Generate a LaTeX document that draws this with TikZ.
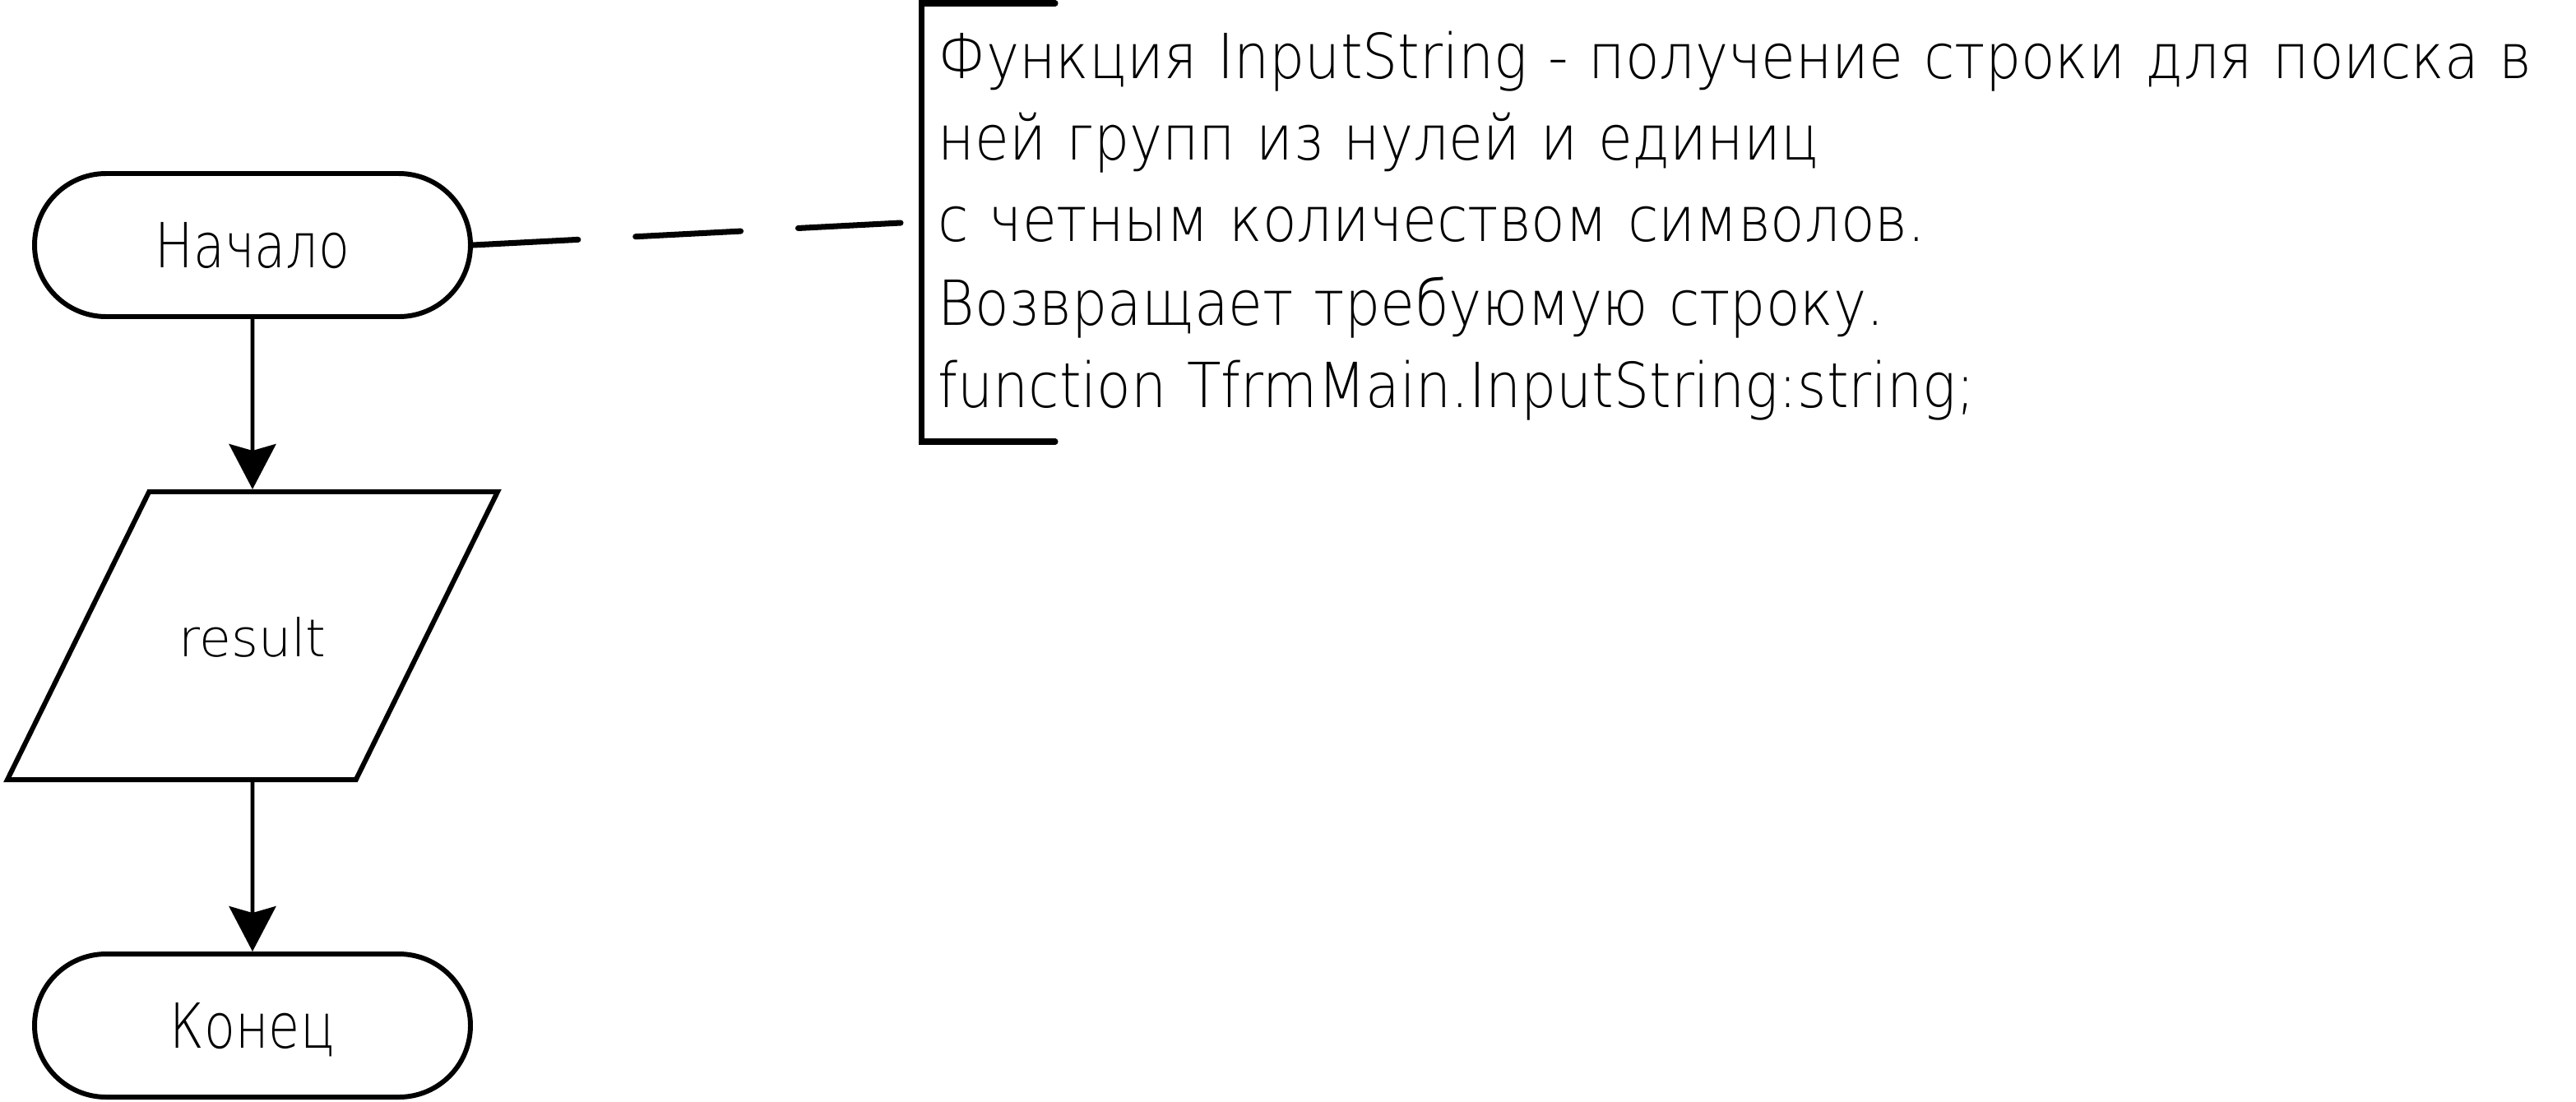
\documentclass[tikz,border=0pt]{standalone}
\usepackage{fontspec}
\usepackage{tikz}
\usetikzlibrary{arrows.meta,shapes.geometric}
\newfontfamily\gost{DejaVu Sans ExtraLight}[FakeStretch=0.9,WordSpace=1.15]
\newfontfamily\gostn{DejaVu Sans ExtraLight}[FakeStretch=0.82]
\newfontfamily\gostw{DejaVu Sans ExtraLight}

\begin{document}
\begin{tikzpicture}[>={Stealth[length=5.5mm,width=5.7mm,inset=0.8mm]},
  term/.style={draw,line width=1.7pt,rectangle,rounded corners=8.7mm,
    minimum width=53mm,minimum height=17.4mm,inner sep=0pt,
    font=\gostn\fontsize{21.5}{26}\selectfont,text height=5.5mm,text depth=0pt},
  io/.style={draw,line width=1.7pt,trapezium,trapezium left angle=63.8,
    trapezium right angle=116.2,trapezium stretches body=true,
    minimum width=59.6mm,inner xsep=0pt,inner ysep=15mm,
    text height=5mm,text depth=0pt,
    font=\gostw\fontsize{18}{22}\selectfont},
  flow/.style={->,line width=1.3pt},
  note/.style={anchor=base west,inner sep=0pt,font=\gost\fontsize{21.5}{26}\selectfont}]
  \useasboundingbox (0,0) rectangle (31.32,-13.39);

  % блок-схема
  \node[term] (start) at (3.07,-2.98) {Начало};
  \node[io] (result) at (3.07,-7.73) {result};
  \node[term] (finish) at (3.07,-12.47) {Конец};

  \draw[flow] (start) -- (result);
  \draw[flow] (result) -- (finish);

  % комментарий
  \coordinate (cmt) at (10.95,-2.71);
  \draw[line width=2pt,line cap=round,dash pattern=on 12.8mm off 7mm] (start.east) -- (cmt);
  \draw[line width=2pt,line cap=round] (12.83,-0.04) -- (11.20,-0.04) -- (11.20,-5.37) -- (12.83,-5.37);

  \node[note] (l1) at (11.40,-0.95) {Функция InputString - получение строки для поиска в};
  \node[note] (l2) at (11.40,-1.94) {ней групп из нулей и единиц};
  \node[note] (l3) at (11.40,-2.93) {с четным количеством символов.};
  \node[note] (l4) at (11.40,-3.95) {Возвращает требуюмую строку.};
  \node[note] (l5) at (11.40,-4.95) {function TfrmMain.InputString:string;};
\end{tikzpicture}
\end{document}
